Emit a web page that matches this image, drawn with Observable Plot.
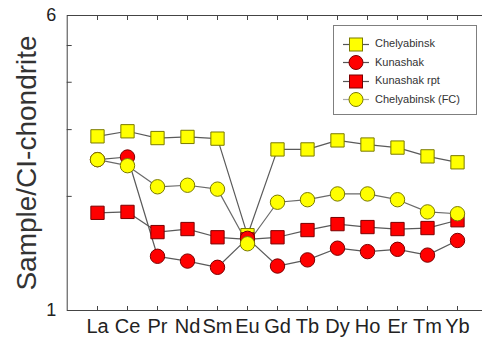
<!DOCTYPE html>
<html><head><meta charset="utf-8">
<script src="https://cdn.jsdelivr.net/npm/d3@7"></script>
<script src="https://cdn.jsdelivr.net/npm/@observablehq/plot@0.6"></script>
<style>
html,body{margin:0;padding:0;background:#fff;overflow:hidden}
#wrap{position:relative;width:482px;height:340px;overflow:hidden}
#wrap svg{max-width:none}
.legend{position:absolute;left:333px;top:25px;width:144px;height:90px;box-sizing:border-box;border:1.4px solid #7f7f7f;background:#fff;font-family:"Liberation Sans",Arial,sans-serif;font-size:11px;color:#333;padding-top:8.5px}
.row{position:relative;height:18.67px}
.row svg{position:absolute;left:8px;top:0}
.row span{position:absolute;left:41px;top:2.5px;white-space:nowrap}
</style></head>
<body><div id="wrap"></div>
<script>
const elements = ["La","Ce","Pr","Nd","Sm","Eu","Gd","Tb","Dy","Ho","Er","Tm","Yb"];
const chelyabinsk   = [2.88,2.97,2.85,2.87,2.84,1.58,2.66,2.66,2.81,2.74,2.69,2.55,2.46];
const kunashak      = [2.50,2.54,1.39,1.35,1.30,1.55,1.31,1.36,1.46,1.43,1.45,1.40,1.53];
const kunashakRpt   = [1.81,1.82,1.61,1.64,1.56,1.54,1.56,1.63,1.69,1.66,1.64,1.65,1.73];
const chelyabinskFC = [2.50,2.41,2.12,2.14,2.09,1.50,1.93,1.96,2.03,2.03,1.96,1.82,1.80];
const seriesNames = ["Chelyabinsk","Kunashak","Kunashak rpt","Chelyabinsk (FC)"];
const yDomain = [1, 6];
const yLabelTicks = [1, 6];
const yMinorTicks = [2, 3, 4, 5];
const yTitle = "Sample/CI-chondrite";

const series = [
  {name: seriesNames[0], values: chelyabinsk, symbol: "square", fill: "#ffff00", stroke: "#7a7a00", r: 7.5, line: "#5a5a5a"},
  {name: seriesNames[2], values: kunashakRpt, symbol: "square", fill: "#ff0000", stroke: "#7a0000", r: 7.5, line: "#5a5a5a"},
  {name: seriesNames[1], values: kunashak, symbol: "circle", fill: "#ff0000", stroke: "#7a0000", r: 7.2, line: "#5a5a5a"},
  {name: seriesNames[3], values: chelyabinskFC, symbol: "circle", fill: "#ffff00", stroke: "#7a7a00", r: 7.2, line: "#6a6a6a"}
];
const rows = series.flatMap(s => s.values.map((v, i) => ({element: elements[i], value: v, series: s.name})));

const marks = [
  Plot.frame({stroke: "#444", strokeWidth: 1}),
  Plot.axisY(yMinorTicks, {anchor: "left", tickSize: -5, tickFormat: () => "", label: null, stroke: "#444"}),
  Plot.axisY(yLabelTicks, {anchor: "left", tickSize: 0, tickPadding: 11, fontSize: 18, tickFormat: d => String(d), label: null, fill: "#222"}),
  Plot.axisX(elements, {anchor: "bottom", tickSize: -4, tickFormat: () => "", label: null, stroke: "#444"}),
  Plot.axisX(elements, {anchor: "top", tickSize: -4, tickFormat: () => "", label: null, stroke: "#444"}),
  Plot.axisX(elements, {anchor: "bottom", tickSize: 0, tickPadding: 8, fontSize: 20, label: null, fill: "#222"}),
  Plot.text([yTitle], {text: d => d, frameAnchor: "left", rotate: -90, dx: -40, fontSize: 28, fill: "#333", textAnchor: "middle", lineAnchor: "middle"})
];
for (const s of series) {
  marks.push(Plot.line(rows.filter(d => d.series === s.name), {x: "element", y: "value", stroke: s.line, strokeWidth: 1.2}));
}
for (const s of series) {
  marks.push(Plot.dot(rows.filter(d => d.series === s.name), {x: "element", y: "value", symbol: s.symbol, r: s.r, fill: s.fill, stroke: s.stroke, strokeWidth: 1}));
}

const chart = Plot.plot({
  width: 482, height: 340,
  marginLeft: 66.7, marginRight: -4.7, marginTop: 15, marginBottom: 30,
  style: {fontFamily: "'Liberation Sans', Arial, sans-serif", background: "#fff", color: "#222"},
  x: {type: "point", domain: elements, padding: 1},
  y: {type: "log", domain: yDomain},
  marks
});
const wrap = document.getElementById("wrap");
wrap.appendChild(chart);

// legend
const legendOrder = [series[0], series[2], series[1], series[3]];
const lg = d3.select(wrap).append("div").attr("class", "legend");
legendOrder.forEach((s, i) => {
  const row = lg.append("div").attr("class", "row");
  const sv = row.append("svg").attr("width", 30).attr("height", 19);
  sv.append("line").attr("x1", 1).attr("x2", 27).attr("y1", 9.5).attr("y2", 9.5)
    .attr("stroke", i === 3 ? "#aaa" : "#555").attr("stroke-width", 1.2);
  if (s.symbol === "square") {
    sv.append("rect").attr("x", 14 - 6.5).attr("y", 9.5 - 6.5).attr("width", 13).attr("height", 13)
      .attr("fill", s.fill).attr("stroke", s.stroke);
  } else {
    sv.append("circle").attr("cx", 14).attr("cy", 9.5).attr("r", 7)
      .attr("fill", s.fill).attr("stroke", s.stroke);
  }
  row.append("span").text(s.name);
});
</script>
</body></html>
